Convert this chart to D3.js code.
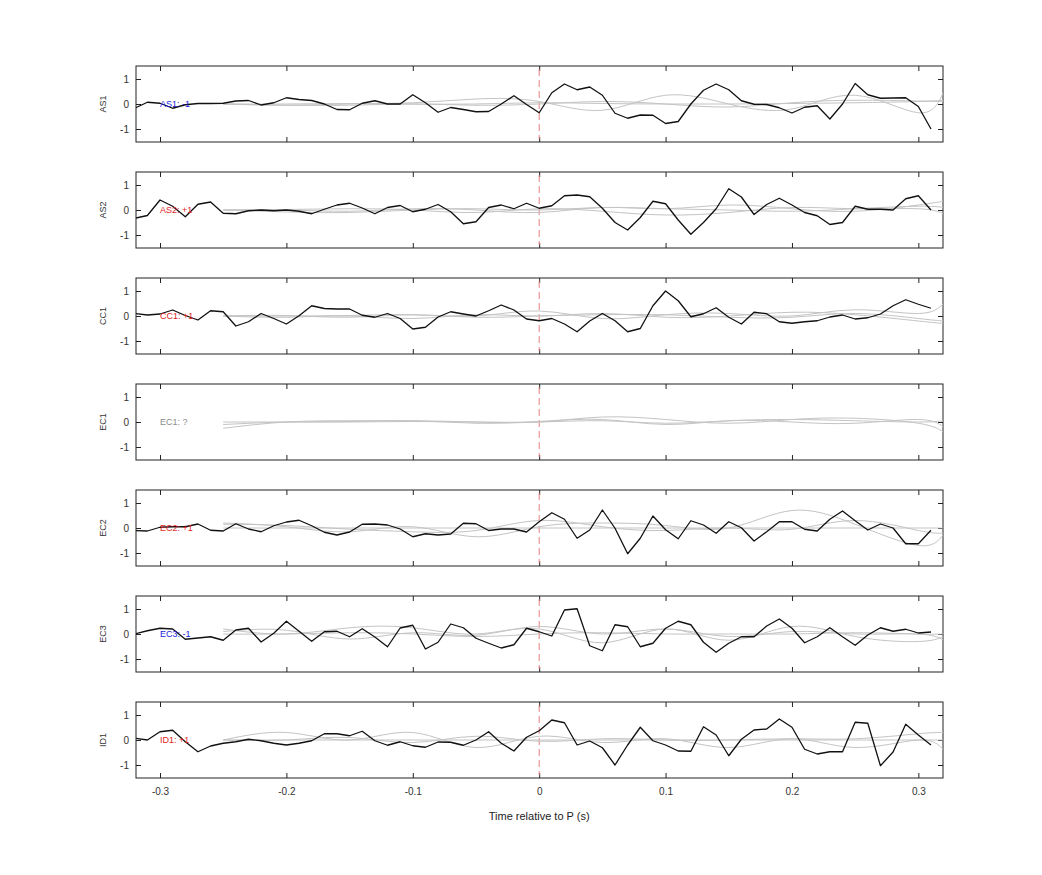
<!DOCTYPE html>
<html>
<head>
<meta charset="utf-8">
<script src="https://cdn.jsdelivr.net/npm/d3@7"></script>
<style>
  body { margin: 0; background: #fff; }
  text { font-family: "Liberation Sans", Arial, sans-serif; }
</style>
</head>
<body>
<svg id="chart" width="1042" height="875"></svg>
<script>
"use strict";

// black trace sample times (s)
var traceTimes = d3.range(-32, 32).map(function (k) { return k / 100; });
// grey smooth trace knots (s)
var greyTimes = [-0.25, -0.2, -0.15, -0.1, -0.05, 0, 0.05, 0.1, 0.15, 0.2, 0.25, 0.3, 0.32];

var panelNames = ["AS1", "AS2", "CC1", "EC1", "EC2", "EC3", "ID1"];
var panelLabels = ["AS1: -1", "AS2: +1", "CC1: +1", "EC1: ?", "EC2: +1", "EC3: -1", "ID1: +1"];
var labelColors = ["#1a1adb", "#e01e1e", "#e01e1e", "#8c8c8c", "#e01e1e", "#1a1adb", "#e01e1e"];
var xTicks = [-0.3, -0.2, -0.1, 0, 0.1, 0.2, 0.3];
var yTicks = [-1, 0, 1];

var as1 = [-0.17, 0.07, 0.03, -0.17, -0.03, 0.02, 0.02, 0.03, 0.12, 0.14, -0.04, 0.05, 0.25, 0.18, 0.14, 0.0,
  -0.22, -0.23, 0.03, 0.13, 0.0, 0.0, 0.37, 0.05, -0.33, -0.14, -0.22, -0.31, -0.3, 0.0, 0.33, -0.02,
  -0.35, 0.45, 0.8, 0.57, 0.68, 0.35, -0.37, -0.57, -0.44, -0.45, -0.78, -0.7, 0.0, 0.55, 0.8, 0.57,
  0.13, -0.01, -0.02, -0.15, -0.36, -0.13, -0.07, -0.6, 0.0, 0.82, 0.37, 0.23, 0.24, 0.25, -0.1, -1.0];
var as2 = [-0.33, -0.22, 0.4, 0.15, -0.27, 0.23, 0.32, -0.13, -0.15, -0.03, 0.0, -0.03, 0.0, -0.05, -0.15, 0.03,
  0.2, 0.27, 0.08, -0.15, 0.1, 0.18, -0.07, 0.03, 0.22, -0.07, -0.55, -0.47, 0.1, 0.2, 0.05, 0.27,
  0.07, 0.17, 0.57, 0.6, 0.53, 0.07, -0.5, -0.8, -0.3, 0.35, 0.25, -0.4, -0.97, -0.5, 0.05, 0.85,
  0.52, -0.18, 0.22, 0.47, 0.2, -0.1, -0.23, -0.58, -0.5, 0.15, 0.03, 0.03, 0.0, 0.45, 0.57, 0.0];
var cc1 = [0.1, 0.04, 0.08, 0.24, 0.02, -0.16, 0.21, 0.17, -0.4, -0.23, 0.1, -0.1, -0.32, 0.01, 0.41, 0.3,
  0.28, 0.28, 0.03, -0.05, 0.1, -0.1, -0.52, -0.45, -0.04, 0.17, 0.08, 0.0, 0.21, 0.44, 0.24, -0.12,
  -0.19, -0.1, -0.32, -0.63, -0.2, 0.1, -0.19, -0.63, -0.5, 0.41, 1.0, 0.61, -0.03, 0.09, 0.33, -0.05,
  -0.32, 0.15, 0.09, -0.23, -0.29, -0.23, -0.19, -0.04, 0.04, -0.12, -0.07, 0.08, 0.41, 0.65, 0.47, 0.31];
var ec1 = [];
var ec2 = [-0.1, -0.12, 0.03, 0.05, 0.05, 0.16, -0.09, -0.12, 0.17, -0.04, -0.15, 0.09, 0.24, 0.31, 0.09, -0.17,
  -0.28, -0.16, 0.15, 0.16, 0.12, -0.04, -0.35, -0.23, -0.28, -0.24, 0.19, 0.17, -0.1, -0.04, -0.04, -0.16,
  0.25, 0.61, 0.35, -0.41, -0.08, 0.72, -0.01, -1.03, -0.41, 0.48, -0.07, -0.43, 0.29, 0.12, -0.21, 0.25,
  0.01, -0.52, -0.15, 0.25, 0.25, -0.05, -0.12, 0.35, 0.68, 0.29, -0.08, 0.16, 0.0, -0.63, -0.63, -0.09];
var ec3 = [0.0, 0.13, 0.23, 0.2, -0.21, -0.16, -0.11, -0.25, 0.16, 0.23, -0.32, 0.03, 0.51, 0.11, -0.29, 0.09,
  0.11, -0.11, 0.21, -0.12, -0.51, 0.24, 0.35, -0.6, -0.33, 0.4, 0.25, -0.17, -0.37, -0.56, -0.43, 0.23,
  0.09, -0.08, 0.96, 1.01, -0.47, -0.67, 0.37, 0.29, -0.51, -0.37, 0.23, 0.51, 0.37, -0.33, -0.73, -0.37,
  -0.11, -0.11, 0.32, 0.6, 0.23, -0.35, -0.11, 0.25, -0.11, -0.45, -0.04, 0.25, 0.11, 0.19, 0.04, 0.08];
var id1 = [0.07, 0.0, 0.33, 0.39, -0.07, -0.47, -0.24, -0.13, -0.07, 0.03, -0.03, -0.13, -0.2, -0.13, -0.03, 0.25,
  0.25, 0.17, 0.35, -0.03, -0.21, -0.07, -0.23, -0.29, -0.08, -0.09, -0.21, 0.0, 0.33, -0.13, -0.44, 0.11,
  0.37, 0.8, 0.69, -0.2, -0.04, -0.31, -1.0, -0.2, 0.51, -0.03, -0.2, -0.44, -0.45, 0.53, 0.2, -0.63,
  0.03, 0.4, 0.44, 0.84, 0.51, -0.37, -0.56, -0.47, -0.47, 0.71, 0.67, -1.03, -0.48, 0.63, 0.2, -0.2];
var traces = [as1, as2, cc1, ec1, ec2, ec3, id1];

// grey template traces per panel, values at greyTimes
var greys = [
  [[0, -0.05, 0, 0.05, 0.2, 0.1, -0.25, 0.35, 0.0, -0.2, 0.35, -0.35, 0.5],
   [0, -0.05, -0.05, 0, -0.05, 0, 0.1, 0, -0.12, 0.05, 0.15, 0.12, 0.1],
   [0, 0, 0.02, 0, 0, 0.05, 0.02, 0, 0, 0.02, 0.05, 0.1, 0.15]],
  [[0, 0, -0.05, 0.05, 0, -0.1, 0.1, 0.05, 0.2, 0.05, -0.05, 0.2, 0.35],
   [0, 0.02, 0.05, 0, -0.1, 0.05, -0.05, -0.2, -0.1, 0.1, 0.05, 0.05, -0.15],
   [0, -0.08, -0.1, 0, 0.05, 0, 0.1, 0.05, 0, -0.05, 0.05, 0.15, 0.1]],
  [[0, 0.02, -0.05, 0.05, 0, 0.2, -0.1, 0.05, 0.1, 0.0, 0.25, 0.1, 0.5],
   [0, -0.05, 0, -0.1, 0.05, 0, 0.1, -0.05, 0, 0.15, 0.05, -0.2, -0.3],
   [0, 0, 0.02, 0.05, -0.05, 0, 0.05, 0.05, -0.05, -0.05, 0.1, -0.1, -0.2]],
  [[-0.25, 0, 0.05, 0.05, 0, 0, 0.2, 0.1, -0.05, 0.1, 0.15, -0.05, -0.4],
   [-0.1, 0, 0.02, 0.05, -0.05, 0.02, 0.1, -0.1, 0.05, 0.0, -0.05, 0.1, -0.2],
   [0, 0, 0, 0.02, 0, 0, 0.05, -0.05, 0.05, 0.1, 0.05, 0.0, 0.05]],
  [[0.2, 0.05, -0.15, 0.05, -0.35, 0.05, 0.2, 0.1, 0.0, 0.7, 0.15, -0.7, -0.25],
   [0.15, 0.1, -0.05, -0.15, -0.1, 0.3, 0.05, -0.1, 0.0, -0.05, 0.3, -0.1, -0.2],
   [0, 0, 0, 0, 0, 0, 0, 0, 0, 0, 0, 0, 0]],
  [[0.2, 0.0, 0.25, 0.25, 0.0, 0.2, -0.35, 0.2, -0.25, 0.3, -0.1, -0.3, -0.1],
   [0.1, 0.15, -0.2, 0.05, -0.05, 0.3, 0.0, 0.2, -0.1, 0.1, 0.0, 0.0, -0.25],
   [0, 0, 0.05, 0, -0.1, 0, 0.05, 0, 0, 0, 0.05, 0, 0]],
  [[0, 0.3, 0.0, 0.3, -0.3, 0.15, -0.1, 0.05, -0.3, 0.05, -0.3, 0.0, -0.4],
   [0, 0.0, 0.1, -0.1, 0.15, -0.05, 0.05, 0.0, 0.0, 0.05, 0.05, 0.25, 0.3],
   [0, 0, 0, 0, 0, 0, 0, 0, 0, 0, 0, 0, 0]]
];

var svg = d3.select("#chart");
var left = 136, right = 943, panelTop = 66, panelH = 76, panelStep = 106;

var x = d3.scaleLinear().domain([-0.319, 0.3195]).range([left, right]);
var y = d3.scaleLinear().domain([-1.52, 1.52]).range([panelH, 0]);
var plain = function (d) { return String(d); };

panelNames.forEach(function (name, p) {
  var g = svg.append("g").attr("transform", "translate(0," + (panelTop + p * panelStep) + ")");
  var last = p === panelNames.length - 1;

  // axes, ticks inward on all sides
  g.append("g").call(d3.axisBottom(x).tickValues(xTicks).tickSize(-5).tickPadding(10)
      .tickFormat(last ? plain : ""))
    .attr("transform", "translate(0," + panelH + ")");
  g.append("g").call(d3.axisTop(x).tickValues(xTicks).tickSize(-5).tickFormat(""));
  g.append("g").call(d3.axisLeft(y).tickValues(yTicks).tickSize(-5).tickPadding(7).tickFormat(plain))
    .attr("transform", "translate(" + left + ",0)");
  g.append("g").call(d3.axisRight(y).tickValues(yTicks).tickSize(-5).tickFormat(""))
    .attr("transform", "translate(" + right + ",0)");
  g.selectAll(".domain").remove();
  g.selectAll(".tick line").attr("stroke", "#222");
  g.selectAll(".tick text").attr("font-size", 10).attr("fill", "#333");

  g.append("rect").attr("x", left).attr("y", 0).attr("width", right - left).attr("height", panelH)
    .attr("fill", "none").attr("stroke", "#222").attr("stroke-width", 1);

  // zero marker
  g.append("line").attr("x1", x(0)).attr("x2", x(0)).attr("y1", 3).attr("y2", panelH - 3)
    .attr("stroke", "#e58080").attr("stroke-dasharray", "7,4").attr("stroke-width", 1);

  var clip = "clip" + p;
  g.append("clipPath").attr("id", clip).append("rect")
    .attr("x", left).attr("y", 0).attr("width", right - left).attr("height", panelH);
  var body = g.append("g").attr("clip-path", "url(#" + clip + ")");

  var greyLine = d3.line().curve(d3.curveNatural)
    .x(function (d, i) { return x(greyTimes[i]); }).y(function (d) { return y(d); });
  greys[p].forEach(function (vals) {
    body.append("path").attr("d", greyLine(vals)).attr("fill", "none")
      .attr("stroke", "#c4c4c4").attr("stroke-width", 1);
  });

  var blackLine = d3.line().x(function (d, i) { return x(traceTimes[i]); }).y(function (d) { return y(d); });
  if (traces[p].length) {
    body.append("path").attr("d", blackLine(traces[p])).attr("fill", "none")
      .attr("stroke", "#111").attr("stroke-width", 1.3).attr("stroke-linejoin", "round");
  }

  g.append("text").attr("x", 160).attr("y", y(0) + 3).attr("font-size", 9)
    .attr("fill", labelColors[p]).text(panelLabels[p]);

  g.append("text").attr("transform", "translate(106," + y(0) + ") rotate(-90)")
    .attr("text-anchor", "middle").attr("font-size", 9).attr("fill", "#333").text(name);
});

svg.append("text").attr("x", x(0)).attr("y", 820).attr("text-anchor", "middle")
  .attr("font-size", 11).attr("fill", "#222").text("Time relative to P (s)");
</script>
</body>
</html>
